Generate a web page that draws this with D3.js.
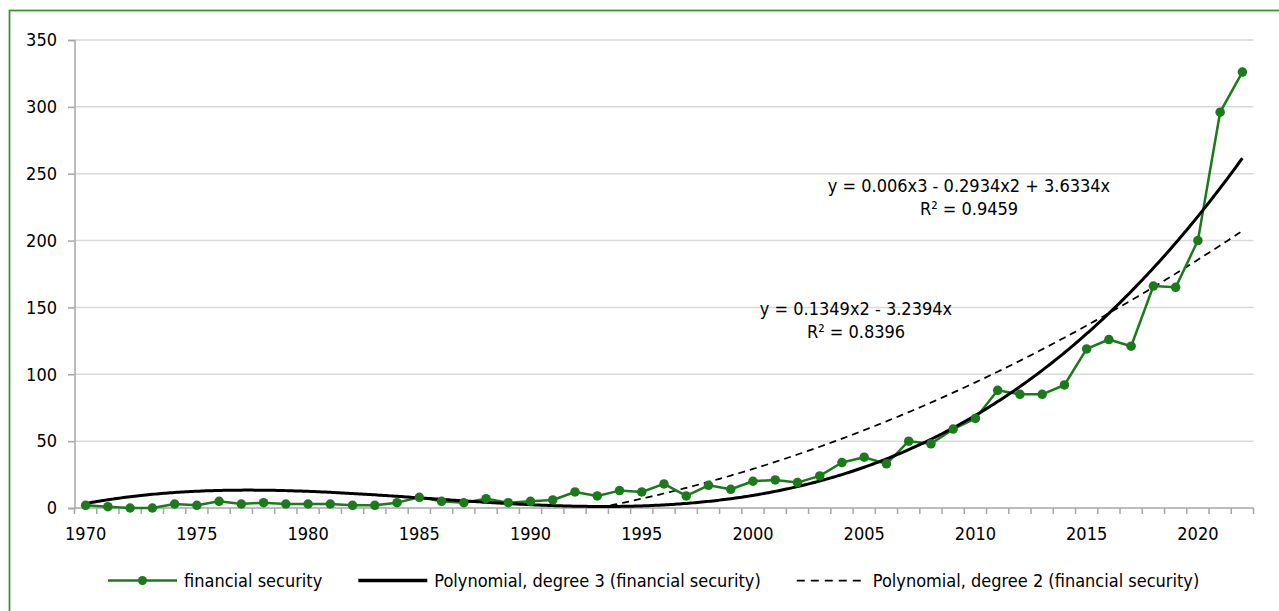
<!DOCTYPE html>
<html>
<head>
<meta charset="utf-8">
<script src="https://cdn.jsdelivr.net/npm/d3@7"></script>
<style>
  body { margin: 0; background: #fff; }
  text { font-family: "DejaVu Sans Condensed", "DejaVu Sans", sans-serif; font-size: 18px; fill: #000; }
</style>
</head>
<body>
<script>
'use strict'

const GREEN  = '#1B7B1B'
const FRAME  = '#389030'
const GRID   = '#D9D9D9'
const AXIS   = '#A6A6A6'
const BLACK  = '#000000'

// data
const years = d3.range(1970, 2023)
const financialSecurity = [
  2, 1, 0, 0, 3, 2, 5, 3, 4, 3,
  3, 3, 2, 2, 4, 8, 5, 4, 7, 4,
  5, 6, 12, 9, 13, 12, 18, 9, 17, 14,
  20, 21, 19, 24, 34, 38, 33, 50, 48, 59,
  67, 88, 85, 85, 92, 119, 126, 121, 166, 165,
  200, 296, 326
]
const yTicks = [0, 50, 100, 150, 200, 250, 300, 350]
const xLabelYears = [1970, 1975, 1980, 1985, 1990, 1995, 2000, 2005, 2010, 2015, 2020]

// trendline coefficients (x = 1 for 1970), from constant term up
const cubicCoef = [0, 3.6334, -0.2934, 0.006]
const quadCoef  = [0, -3.2394, 0.1349]
const cubicLabel = ['y = 0.006x3 - 0.2934x2 + 3.6334x', 'R² = 0.9459']
const quadLabel  = ['y = 0.1349x2 - 3.2394x', 'R² = 0.8396']
const legendNames = [
  'financial security',
  'Polynomial, degree 3 (financial security)',
  'Polynomial, degree 2 (financial security)'
]

const W = 1279, H = 611
const plotLeft = 74.5, plotRight = 1253.5, plotTop = 40, plotBottom = 508

const svg = d3.select('body').append('svg')
  .attr('width', W)
  .attr('height', H)

svg.append('rect')
  .attr('x', 9.5).attr('y', 10.5)
  .attr('width', W + 20).attr('height', H + 20)
  .attr('fill', 'none')
  .attr('stroke', FRAME)
  .attr('stroke-width', 1.75)

const x = d3.scaleBand().domain(years).range([plotLeft, plotRight])
const y = d3.scaleLinear().domain([0, 350]).range([plotBottom, plotTop])
const bw = x.bandwidth()
const cx = yr => x(yr) + bw / 2
// trendline x runs 1..53 over the category centres
const t = d3.scaleLinear().domain([1, years.length]).range([cx(years[0]), cx(years[years.length - 1])])

// gridlines
svg.append('g')
  .selectAll('line')
  .data(yTicks.filter(d => d > 0))
  .join('line')
  .attr('x1', plotLeft).attr('x2', plotRight)
  .attr('y1', d => y(d)).attr('y2', d => y(d))
  .attr('stroke', GRID)
  .attr('stroke-width', 1.5)

// y axis
const yAxis = svg.append('g')
  .attr('transform', `translate(${ plotLeft }, 0)`)
  .call(d3.axisLeft(y).tickValues(yTicks).tickSize(6.5).tickPadding(11))
yAxis.attr('font-size', null).attr('font-family', null)
yAxis.select('.domain').attr('stroke', AXIS).attr('stroke-width', 1.5)
yAxis.selectAll('.tick line').attr('stroke', AXIS).attr('stroke-width', 1.5)

// x axis: ticks on category boundaries, labels every 5 years
const xAxis = svg.append('g')
  .attr('transform', `translate(0, ${ plotBottom })`)
  .call(d3.axisBottom(x).tickValues(xLabelYears).tickSize(0).tickPadding(19))
xAxis.attr('font-size', null).attr('font-family', null)
xAxis.select('.domain').remove()
xAxis.selectAll('.tick line').remove()

const edges = years.map(d => x(d)).concat([plotRight])
svg.append('g')
  .selectAll('line')
  .data(edges)
  .join('line')
  .attr('x1', d => d).attr('x2', d => d)
  .attr('y1', plotBottom).attr('y2', plotBottom + 6)
  .attr('stroke', AXIS)
  .attr('stroke-width', 1.5)
svg.append('line')
  .attr('x1', plotLeft).attr('x2', plotRight)
  .attr('y1', plotBottom).attr('y2', plotBottom)
  .attr('stroke', AXIS)
  .attr('stroke-width', 1.5)

// trendlines
const poly = coef => v => coef.reduce((s, c, i) => s + c * Math.pow(v, i), 0)
const steps = d3.range(1, years.length + 0.001, 0.1)

svg.append('clipPath').attr('id', 'plot')
  .append('rect')
  .attr('x', plotLeft).attr('y', plotTop)
  .attr('width', plotRight - plotLeft).attr('height', plotBottom - plotTop)

const trendLine = f => d3.line()
  .x(v => t(v))
  .y(v => y(f(v)))

svg.append('path')
  .datum(steps)
  .attr('clip-path', 'url(#plot)')
  .attr('d', trendLine(poly(quadCoef)))
  .attr('fill', 'none')
  .attr('stroke', BLACK)
  .attr('stroke-width', 1.75)
  .attr('stroke-dasharray', '7,5')

// series
const series = years.map((yr, i) => ({ year: yr, value: financialSecurity[i] }))

svg.append('path')
  .datum(series)
  .attr('d', d3.line().x(d => cx(d.year)).y(d => y(d.value)))
  .attr('fill', 'none')
  .attr('stroke', GREEN)
  .attr('stroke-width', 2.5)
  .attr('stroke-linejoin', 'round')

svg.append('path')
  .datum(steps)
  .attr('d', trendLine(poly(cubicCoef)))
  .attr('fill', 'none')
  .attr('stroke', BLACK)
  .attr('stroke-width', 3)

svg.append('g')
  .selectAll('circle')
  .data(series)
  .join('circle')
  .attr('cx', d => cx(d.year))
  .attr('cy', d => y(d.value))
  .attr('r', 4.75)
  .attr('fill', GREEN)

// equation labels
const eqLabel = (lines, px, py) => {
  svg.append('text')
    .attr('text-anchor', 'middle')
    .selectAll('tspan')
    .data(lines)
    .join('tspan')
    .attr('x', px)
    .attr('y', (d, i) => py + i * 22.5)
    .text(d => d)
}
eqLabel(cubicLabel, 969, 192)
eqLabel(quadLabel, 856, 315)

// legend
const legend = svg.append('g').attr('transform', 'translate(108, 580.5)')
let lx = 0
legendNames.forEach((name, i) => {
  const g = legend.append('g').attr('transform', `translate(${ lx }, 0)`)
  const ln = g.append('line')
    .attr('x1', 0).attr('x2', 69)
    .attr('y1', 0).attr('y2', 0)
  if (i === 0) {
    ln.attr('stroke', GREEN).attr('stroke-width', 2.5)
    g.append('circle').attr('cx', 34.5).attr('cy', 0).attr('r', 4.5).attr('fill', GREEN)
  } else if (i === 1) {
    ln.attr('stroke', BLACK).attr('stroke-width', 3.5)
  } else {
    ln.attr('stroke', BLACK).attr('stroke-width', 1.75).attr('stroke-dasharray', '8,6')
  }
  const txt = g.append('text')
    .attr('x', 76)
    .attr('dy', '0.35em')
    .text(name)
  lx += 76 + txt.node().getComputedTextLength() + 36
})
</script>
</body>
</html>
